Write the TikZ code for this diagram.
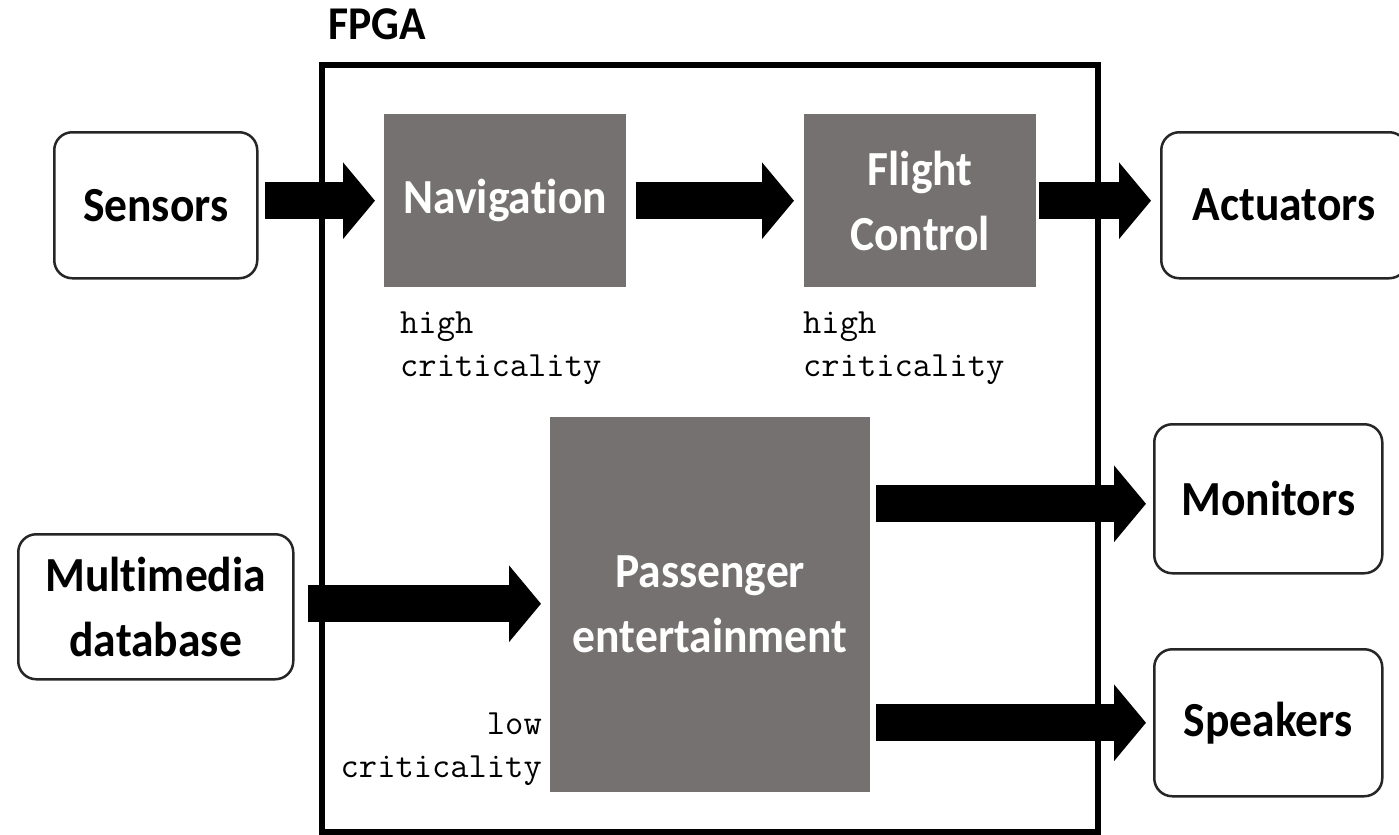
\documentclass[tikz,border=0pt]{standalone}
\usepackage{fontspec}
\usetikzlibrary{arrows.meta,calc}
\newfontfamily\bfont{Carlito}[FakeStretch=0.93,Ligatures=NoCommon,BoldFeatures={FakeStretch=0.93,Ligatures=NoCommon}]
\definecolor{coregray}{HTML}{767171}
\tikzset{
  extbox/.style={draw=black!85, line width=2.5bp, rounded corners=18bp, fill=white,
    inner sep=0pt, align=center, anchor=north west,
    font=\bfont\bfseries\fontsize{49bp}{65bp}\selectfont},
  corebox/.style={fill=coregray, text=white, inner sep=0pt, align=center, anchor=north west,
    font=\bfont\bfseries\fontsize{49bp}{65bp}\selectfont},
  critlabel/.style={inner sep=0pt, font=\ttfamily\fontsize{35.5bp}{43bp}\selectfont},
  bigarrow/.style={draw=black, line width=37bp, -{Triangle[length=32bp,width=75bp]}},
}
\begin{document}
\begin{tikzpicture}[x=1bp,y=-1bp]
\useasboundingbox (0,0) rectangle (1399,834);
% FPGA frame
\node[anchor=north west, inner sep=0pt, font=\bfont\bfseries\fontsize{47bp}{56bp}\selectfont] (fpgalabel) at (328,8) {FPGA};
\draw[line width=6bp] (322,64.5) rectangle (1098,832);
% external devices
\node[extbox, minimum width=203bp, minimum height=146bp] (sens) at (53,131) {Sensors};
\node[extbox, minimum width=246bp, minimum height=146bp] (act) at (1160,131) {Actuators};
\node[extbox, minimum width=275bp, minimum height=145bp] (mm) at (17,533) {Multimedia\\database};
\node[extbox, minimum width=228bp, minimum height=149bp] (mon) at (1153,423) {Monitors};
\node[extbox, minimum width=228bp, minimum height=147bp] (spk) at (1153,648) {Speakers};
% FPGA cores
\node[corebox, minimum width=242bp, minimum height=173bp] (nav) at (384,114) {Navigation};
\node[corebox, minimum width=232bp, minimum height=173bp] (fc) at (804,114) {Flight\\Control};
\node[corebox, minimum width=320bp, minimum height=375bp] (pe) at (550,417) {Passenger\\entertainment};
% criticality labels
\node[critlabel, anchor=north west, align=left] (navcrit) at (400,312) {high\\criticality};
\node[critlabel, anchor=north west, align=left] (fccrit) at (803,312) {high\\criticality};
\node[critlabel, anchor=north east, align=right] (pecrit) at (542,713) {low\\criticality};
% arrows
\draw[bigarrow, shorten <=6bp, shorten >=9bp] (sens.east |- nav.west) -- (nav.west);
\draw[bigarrow, shorten <=10bp, shorten >=10bp] (nav.east) -- (fc.west);
\draw[bigarrow, shorten <=3bp, shorten >=9bp] (fc.east) -- (fc.east -| act.west);
\draw[bigarrow, shorten <=13bp, shorten >=9bp] ([yshift=3bp]mm.east) -- ([yshift=3bp]mm.east -| pe.west);
\draw[bigarrow, shorten <=6bp, shorten >=7bp] ([yshift=-5bp]pe.east |- mon.west) -- ([yshift=-5bp]mon.west);
\draw[bigarrow, shorten <=6bp, shorten >=7bp] (pe.east |- spk.west) -- (spk.west);
\end{tikzpicture}
\end{document}
